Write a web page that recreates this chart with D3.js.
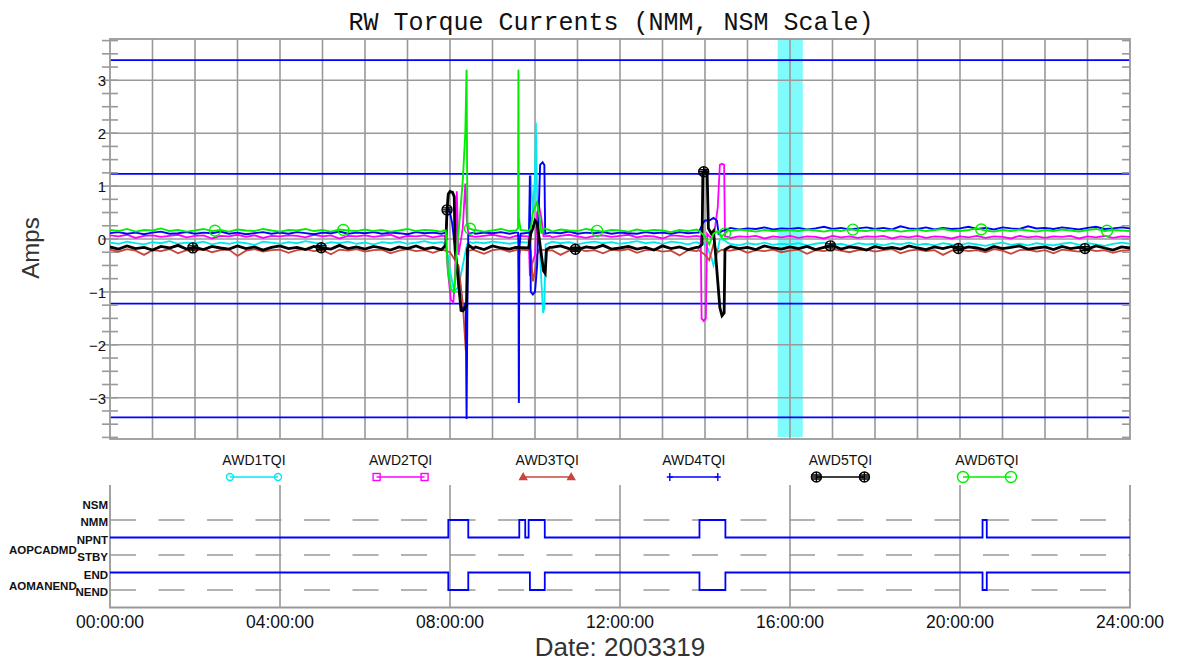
<!DOCTYPE html>
<html>
<head>
<meta charset="utf-8">
<script src="https://cdn.jsdelivr.net/npm/d3@7"></script>
<style>
  html, body { margin: 0; padding: 0; background: #fff; }
  svg { display: block; }
  text { font-family: "Liberation Sans", Arial, sans-serif; fill: #111; }
</style>
</head>
<body>
<svg id="chart" width="1177" height="664"></svg>
<script>
// ---- Data -------------------------------------------------------------
// Torque currents sampled every 0.2 h (00:00 .. 24:00), in amps.
const HOUR_STEP = 0.2;

const awd1 = [
  -0.07,-0.09,-0.05,-0.08,-0.10,-0.06,-0.08,-0.04,-0.09,-0.07,
  -0.08,-0.05,-0.10,-0.07,-0.09,-0.06,-0.08,-0.11,-0.05,-0.07,
  -0.09,-0.06,-0.08,-0.04,-0.07,-0.10,-0.06,-0.08,-0.05,-0.09,
  -0.07,-0.10,-0.06,-0.08,-0.05,-0.09,-0.07,-0.04,-0.08,-0.06,
  -0.08,-0.07,-0.09,-0.06,-0.08,-0.05,-0.07,-0.09,-0.06,-0.08,
  -0.07,-0.09,-0.05,-0.08,-0.06,-0.10,-0.07,-0.05,-0.08,-0.06,
  -0.09,-0.07,-0.04,-0.08,-0.06,-0.09,-0.05,-0.07,-0.10,-0.06,
  -0.08,-0.10,-0.07,-0.09,-0.12,-0.08,-0.10,-0.07,-0.11,-0.09,
  -0.10,-0.08,-0.12,-0.09,-0.07,-0.11,-0.09,-0.13,-0.08,-0.10,
  -0.09,-0.12,-0.08,-0.10,-0.07,-0.11,-0.09,-0.12,-0.08,-0.10,
  -0.11,-0.08,-0.10,-0.13,-0.09,-0.07,-0.11,-0.09,-0.12,-0.08,
  -0.10,-0.12,-0.09,-0.07,-0.11,-0.08,-0.10,-0.13,-0.09,-0.07,
  -0.09
];
const awd2 = [
  0.07,0.05,0.08,0.02,0.06,0.07,0.04,0.06,0.08,0.03,
  0.06,0.07,0.01,0.06,0.05,0.08,0.04,0.07,0.02,0.06,
  0.05,0.07,0.06,0.03,0.08,0.05,0.07,0.01,0.06,0.05,
  0.07,0.04,0.06,0.08,0.02,0.06,0.05,0.07,0.03,0.06,
  0.06,0.05,0.07,0.04,0.06,0.08,0.05,0.02,0.06,0.07,
  0.05,0.07,0.03,0.06,0.08,0.05,0.02,0.06,0.07,0.04,
  0.06,0.08,0.03,0.06,0.05,0.01,0.07,0.06,0.04,0.06,
  0.05,0.03,0.06,0.02,0.05,0.04,0.06,0.01,0.05,0.03,
  0.06,0.02,0.05,0.04,0.01,0.06,0.03,0.05,0.02,0.05,
  0.04,0.06,0.01,0.05,0.03,0.06,0.02,0.05,0.04,0.01,
  0.05,0.03,0.06,0.02,0.05,0.04,0.01,0.06,0.03,0.05,
  0.02,0.05,0.04,0.06,0.01,0.05,0.03,0.06,0.02,0.05,
  0.04
];
const awd3 = [
  -0.20,-0.24,-0.19,-0.22,-0.30,-0.21,-0.23,-0.19,-0.27,-0.21,
  -0.22,-0.19,-0.25,-0.21,-0.20,-0.32,-0.22,-0.19,-0.24,-0.21,
  -0.20,-0.26,-0.21,-0.19,-0.23,-0.21,-0.29,-0.20,-0.22,-0.19,
  -0.24,-0.21,-0.20,-0.27,-0.22,-0.19,-0.23,-0.21,-0.26,-0.20,
  -0.21,-0.23,-0.20,-0.22,-0.28,-0.21,-0.19,-0.24,-0.21,-0.22,
  -0.20,-0.25,-0.21,-0.30,-0.22,-0.19,-0.23,-0.21,-0.27,-0.20,
  -0.22,-0.19,-0.26,-0.21,-0.20,-0.24,-0.22,-0.31,-0.21,-0.23,
  -0.21,-0.24,-0.20,-0.22,-0.19,-0.26,-0.21,-0.23,-0.20,-0.25,
  -0.22,-0.20,-0.28,-0.21,-0.23,-0.19,-0.22,-0.25,-0.21,-0.20,
  -0.24,-0.21,-0.19,-0.27,-0.22,-0.20,-0.23,-0.21,-0.30,-0.22,
  -0.20,-0.23,-0.21,-0.25,-0.19,-0.22,-0.28,-0.21,-0.20,-0.24,
  -0.21,-0.27,-0.20,-0.22,-0.24,-0.19,-0.23,-0.21,-0.26,-0.22,
  -0.21
];
const awd4 = [
  0.11,0.13,0.10,0.12,0.09,0.12,0.14,0.10,0.11,0.13,
  0.10,0.12,0.11,0.14,0.10,0.12,0.09,0.11,0.13,0.10,
  0.12,0.10,0.13,0.11,0.09,0.12,0.11,0.14,0.10,0.12,
  0.11,0.13,0.10,0.12,0.11,0.09,0.13,0.11,0.12,0.10,
  0.12,0.11,0.13,0.10,0.12,0.11,0.13,0.10,0.12,0.11,
  0.13,0.10,0.12,0.11,0.14,0.10,0.12,0.11,0.13,0.10,
  0.12,0.11,0.10,0.13,0.11,0.12,0.10,0.13,0.11,0.12,
  0.15,0.18,0.19,0.21,0.18,0.20,0.19,0.22,0.18,0.20,
  0.19,0.21,0.18,0.20,0.23,0.19,0.21,0.18,0.20,0.22,
  0.19,0.21,0.18,0.24,0.20,0.19,0.22,0.18,0.21,0.19,
  0.20,0.23,0.19,0.21,0.18,0.22,0.20,0.19,0.24,0.20,
  0.21,0.19,0.22,0.20,0.18,0.21,0.23,0.19,0.20,0.22,
  0.20
];
const awd5 = [
  -0.15,-0.19,-0.13,-0.18,-0.16,-0.21,-0.14,-0.17,-0.12,-0.19,
  -0.16,-0.20,-0.14,-0.17,-0.19,-0.13,-0.18,-0.15,-0.21,-0.16,
  -0.13,-0.18,-0.16,-0.20,-0.14,-0.17,-0.19,-0.12,-0.18,-0.15,
  -0.19,-0.14,-0.17,-0.21,-0.15,-0.18,-0.13,-0.19,-0.16,-0.20,
  -0.16,-0.14,-0.18,-0.15,-0.20,-0.13,-0.17,-0.19,-0.15,-0.18,
  -0.14,-0.19,-0.16,-0.13,-0.18,-0.20,-0.15,-0.17,-0.12,-0.19,
  -0.17,-0.14,-0.19,-0.16,-0.21,-0.13,-0.18,-0.15,-0.20,-0.16,
  -0.17,-0.15,-0.19,-0.14,-0.18,-0.16,-0.20,-0.13,-0.17,-0.19,
  -0.15,-0.18,-0.14,-0.20,-0.16,-0.12,-0.19,-0.15,-0.17,-0.21,
  -0.14,-0.18,-0.16,-0.19,-0.13,-0.17,-0.20,-0.15,-0.18,-0.14,
  -0.19,-0.15,-0.17,-0.21,-0.14,-0.18,-0.16,-0.13,-0.19,-0.17,
  -0.15,-0.20,-0.14,-0.18,-0.16,-0.19,-0.13,-0.17,-0.21,-0.15,
  -0.17
];
const awd6 = [
  0.17,0.15,0.19,0.14,0.17,0.16,0.20,0.15,0.17,0.14,
  0.16,0.19,0.15,0.17,0.14,0.18,0.16,0.15,0.19,0.16,
  0.14,0.17,0.16,0.19,0.15,0.17,0.14,0.18,0.16,0.15,
  0.18,0.15,0.17,0.14,0.16,0.19,0.15,0.17,0.16,0.14,
  0.16,0.18,0.15,0.17,0.14,0.16,0.19,0.15,0.17,0.16,
  0.15,0.17,0.14,0.18,0.16,0.15,0.19,0.16,0.14,0.17,
  0.16,0.14,0.18,0.15,0.17,0.16,0.13,0.17,0.15,0.18,
  0.16,0.14,0.17,0.15,0.18,0.16,0.14,0.17,0.15,0.16,
  0.17,0.15,0.18,0.16,0.14,0.17,0.15,0.19,0.16,0.15,
  0.18,0.15,0.17,0.14,0.16,0.18,0.15,0.17,0.19,0.16,
  0.15,0.17,0.20,0.16,0.14,0.17,0.15,0.18,0.16,0.14,
  0.17,0.15,0.18,0.16,0.14,0.17,0.19,0.15,0.17,0.16,
  0.15
];

// Finer samples [hour, amps] around the three slews.
const eventWindows = [[7.85, 8.55], [9.55, 10.35], [13.85, 14.55]];

const awd1Events = [
  [7.85,-0.07],[7.95,-0.3],[8.0,-0.6],[8.1,-1.0],[8.2,-0.9],[8.3,-0.5],[8.4,-0.1],[8.47,-0.06],[8.55,-0.08],
  [9.55,-0.07],[9.7,-0.06],[9.85,-0.07],[9.9,1.2],[9.95,0.5],[10.0,1.2],[10.02,2.2],[10.05,0.8],[10.1,0.0],
  [10.15,-0.8],[10.19,-1.4],[10.22,-1.3],[10.25,-0.1],[10.35,-0.07],
  [13.85,-0.08],[13.95,-0.06],[14.05,-0.15],[14.15,-0.35],[14.2,-0.5],[14.28,-0.3],[14.35,0.0],[14.45,-0.02],[14.55,-0.08]
];
const awd2Events = [
  [7.85,0.06],[7.9,0.04],[7.95,-0.6],[8.02,-1.15],[8.08,-1.2],[8.12,-0.7],[8.16,0.9],[8.2,-0.3],[8.3,0.2],
  [8.36,1.05],[8.4,0.3],[8.44,0.06],[8.55,0.05],
  [9.55,0.06],[9.85,0.05],[9.88,-0.7],[9.92,-0.5],[10.0,-0.3],[10.05,0.5],[10.1,0.6],[10.15,0.4],[10.2,0.05],[10.35,0.06],
  [13.85,0.05],[13.9,0.05],[13.92,-1.5],[13.97,-1.55],[14.02,-1.5],[14.05,0.1],[14.1,0.05],[14.2,0.0],
  [14.3,0.6],[14.35,1.4],[14.4,1.42],[14.45,1.4],[14.47,0.05],[14.55,0.04]
];
const awd3Events = [
  [7.85,-0.21],[8.0,-0.25],[8.2,-0.5],[8.3,-1.2],[8.37,-2.1],[8.4,-0.6],[8.44,-0.22],[8.55,-0.2],
  [9.55,-0.21],[9.6,-0.2],[9.615,-1.0],[9.62,-3.05],[9.63,-0.3],[9.66,-0.2],[9.9,-0.22],[9.95,-0.8],
  [10.0,-0.6],[10.05,-0.3],[10.1,-0.2],[10.35,-0.22],
  [13.85,-0.21],[14.0,-0.3],[14.1,-0.4],[14.2,-0.1],[14.3,-0.25],[14.4,-0.2],[14.55,-0.22]
];
const awd4Events = [
  [7.85,0.11],[7.9,0.12],[7.95,0.6],[8.0,0.5],[8.05,0.3],[8.15,-0.4],[8.26,-1.3],[8.33,-1.3],[8.37,-1.2],
  [8.39,-3.4],[8.41,-1.2],[8.43,0.1],[8.55,0.12],
  [9.55,0.12],[9.6,0.12],[9.615,-0.2],[9.62,-3.1],[9.63,-0.2],[9.66,0.1],[9.86,0.12],[9.88,1.2],[9.9,-1.0],
  [9.95,-1.05],[10.0,-1.0],[10.05,-0.5],[10.12,1.4],[10.18,1.45],[10.22,1.4],[10.24,0.1],[10.35,0.12],
  [13.85,0.12],[13.95,0.3],[14.0,0.35],[14.1,0.35],[14.2,0.4],[14.28,0.35],[14.32,0.1],[14.4,0.15],[14.55,0.19]
];
const awd5Events = [
  [7.85,-0.16],[7.9,-0.12],[7.93,0.55],[7.96,0.85],[8.0,0.9],[8.06,0.88],[8.1,0.8],[8.12,-0.2],[8.16,-0.5],
  [8.22,-1.0],[8.26,-1.35],[8.3,-1.36],[8.36,-1.3],[8.39,-1.25],[8.41,-0.2],[8.44,-0.12],[8.55,-0.18],
  [9.55,-0.16],[9.85,-0.17],[9.9,0.1],[9.95,0.2],[10.0,0.35],[10.05,0.3],[10.1,0.0],[10.15,-0.3],[10.2,-0.6],
  [10.24,-0.65],[10.27,-0.2],[10.35,-0.16],
  [13.85,-0.16],[13.93,-0.1],[13.95,1.25],[14.0,1.3],[14.05,1.25],[14.08,0.2],[14.15,0.1],[14.2,0.15],
  [14.25,-0.3],[14.3,-0.8],[14.35,-1.3],[14.4,-1.45],[14.45,-1.4],[14.47,-0.2],[14.55,-0.16]
];
const awd6Events = [
  [7.85,0.16],[7.9,0.16],[7.95,-0.6],[8.02,-0.95],[8.1,-1.0],[8.15,-0.3],[8.22,0.3],[8.3,1.1],[8.36,2.0],
  [8.39,3.2],[8.41,0.3],[8.45,0.2],[8.55,0.17],
  [9.55,0.16],[9.6,0.2],[9.605,1.7],[9.61,3.2],[9.62,0.4],[9.66,0.17],[9.85,0.15],[9.9,0.2],[9.95,0.5],
  [10.0,0.6],[10.05,0.7],[10.1,0.45],[10.15,0.1],[10.2,0.2],[10.35,0.17],
  [13.85,0.16],[14.0,0.05],[14.1,-0.1],[14.2,0.1],[14.3,0.15],[14.4,0.05],[14.55,0.17]
];

// Plot-symbol positions (hours) along AWD5 and AWD6.
const awd5SymbolHours = [1.95, 4.97, 7.93, 10.95, 13.97, 16.95, 19.96, 22.94];
const awd6SymbolHours = [2.47, 5.49, 8.47, 11.46, 14.47, 17.48, 20.5, 23.46];

// Limit lines (amps) and highlighted interval (hours).
const limitLevels = [3.38, 1.23, -1.22, -3.37];
const highlightSpan = [15.71, 16.30];

const seriesNames = ["AWD1TQI", "AWD2TQI", "AWD3TQI", "AWD4TQI", "AWD5TQI", "AWD6TQI"];
const yTicks = [-3, -2, -1, 0, 1, 2, 3];
const timeTickHours = [0, 4, 8, 12, 16, 20, 24];
const timeTickLabels = ["00:00:00", "04:00:00", "08:00:00", "12:00:00", "16:00:00", "20:00:00", "24:00:00"];

// Discrete status telemetry: [hour the state begins, state]
const modeStates = ["NSM", "NMM", "NPNT", "STBY", "END", "NEND"];
const aopcadmd = [[0,"NPNT"],[7.96,"NMM"],[8.43,"NPNT"],[9.63,"NMM"],[9.77,"NPNT"],[9.85,"NMM"],[10.23,"NPNT"],
                  [13.87,"NMM"],[14.48,"NPNT"],[20.53,"NMM"],[20.63,"NPNT"],[24,"NPNT"]];
const aomanend = [[0,"END"],[7.96,"NEND"],[8.43,"END"],[9.88,"NEND"],[10.23,"END"],[13.87,"NEND"],[14.48,"END"],
                  [20.53,"NEND"],[20.63,"END"],[24,"END"]];
const dashedStates = ["NMM", "STBY", "NEND"];

// ---- Layout -----------------------------------------------------------
const svg = d3.select("#chart");
const left = 110, right = 1130;
const top1 = 39, bottom1 = 439;
const top2 = 485, bottom2 = 607.5;

const x = d3.scaleLinear().domain([0, 24]).range([left, right]);
const y = d3.scaleLinear().domain([-3.78, 3.78]).range([bottom1, top1]);
const yMode = d3.scaleLinear().domain([-1, 6]).range([top2, bottom2]);

const gridColor = "#999";

function buildSeries(base, events) {
  const pts = base.map((v, i) => [i * HOUR_STEP, v])
    .filter(([h]) => !eventWindows.some(([a, b]) => h >= a && h <= b));
  return pts.concat(events).sort((p, q) => p[0] - q[0]);
}

const series = [
  { name: seriesNames[0], color: "#00e8f0", width: 1.8, pts: buildSeries(awd1, awd1Events), sym: "circle" },
  { name: seriesNames[1], color: "#ff00ff", width: 1.8, pts: buildSeries(awd2, awd2Events), sym: "square" },
  { name: seriesNames[2], color: "#c8443c", width: 1.8, pts: buildSeries(awd3, awd3Events), sym: "triangle" },
  { name: seriesNames[3], color: "#0000ff", width: 1.9, pts: buildSeries(awd4, awd4Events), sym: "plus" },
  { name: seriesNames[4], color: "#000000", width: 2.8, pts: buildSeries(awd5, awd5Events), sym: "oplus", symHours: awd5SymbolHours },
  { name: seriesNames[5], color: "#00ee00", width: 1.9, pts: buildSeries(awd6, awd6Events), sym: "bigcircle", symHours: awd6SymbolHours }
];

function valueAt(pts, h) {
  const i = d3.bisector(d => d[0]).left(pts, h);
  if (i <= 0) return pts[0][1];
  if (i >= pts.length) return pts[pts.length - 1][1];
  const [h0, v0] = pts[i - 1], [h1, v1] = pts[i];
  return v0 + (v1 - v0) * (h - h0) / (h1 - h0);
}

function drawSymbol(g, type, cx, cy, color) {
  const s = g.append("g").attr("transform", `translate(${cx},${cy})`)
    .attr("fill", "none").attr("stroke", color).attr("stroke-width", 1.4);
  if (type === "circle") s.append("circle").attr("r", 3.5);
  else if (type === "square") s.append("rect").attr("x", -3.5).attr("y", -3.5).attr("width", 7).attr("height", 7);
  else if (type === "triangle") s.append("path").attr("d", "M0,-3.5L3.5,2.5L-3.5,2.5Z").attr("fill", color);
  else if (type === "plus") s.append("path").attr("d", "M0,-4V4M-3,0H3");
  else if (type === "oplus") {
    s.append("circle").attr("r", 5);
    s.append("path").attr("d", "M-5,0H5M0,-5V5M-5,-2H5M-5,2H5");
  } else if (type === "bigcircle") s.append("circle").attr("r", 5.5);
}

// ---- Title ------------------------------------------------------------
svg.append("text").attr("x", 611).attr("y", 30).attr("text-anchor", "middle")
  .style("font-family", "'Courier New', 'Liberation Mono', monospace")
  .style("font-size", "25px")
  .text("RW Torque Currents (NMM, NSM Scale)");

// ---- Upper panel ------------------------------------------------------
const clipId = "plotClip";
svg.append("clipPath").attr("id", clipId).append("rect")
  .attr("x", left).attr("y", top1).attr("width", right - left).attr("height", bottom1 - top1);

// highlighted interval
svg.append("rect")
  .attr("x", x(highlightSpan[0])).attr("y", top1)
  .attr("width", x(highlightSpan[1]) - x(highlightSpan[0]))
  .attr("height", bottom1 - 2 - top1)
  .attr("fill", "#80fbfb");

// hourly vertical grid and integer horizontal grid
const grid = svg.append("g").attr("stroke", gridColor).attr("stroke-width", 1.6);
grid.selectAll("line.v").data(d3.range(1, 24)).join("line")
  .attr("x1", d => x(d)).attr("x2", d => x(d)).attr("y1", top1).attr("y2", bottom1);
grid.selectAll("line.h").data(yTicks).join("line")
  .attr("x1", left).attr("x2", right).attr("y1", d => y(d)).attr("y2", d => y(d));

// limit lines
svg.append("g").selectAll("line").data(limitLevels).join("line")
  .attr("x1", left).attr("x2", right).attr("y1", d => y(d)).attr("y2", d => y(d))
  .attr("stroke", "#0000ff").attr("stroke-width", 1.8);

// minor/major ticks every 0.25 A
const tickVals = d3.range(-15, 16).map(k => k * 0.25);
const ticks = svg.append("g").attr("stroke", gridColor).attr("stroke-width", 1.6);
ticks.selectAll("line.l").data(tickVals).join("line")
  .attr("x1", left - 8).attr("x2", left + 8).attr("y1", d => y(d)).attr("y2", d => y(d));
ticks.selectAll("line.r").data(tickVals).join("line")
  .attr("x1", right - 8).attr("x2", right).attr("y1", d => y(d)).attr("y2", d => y(d));

// frame
svg.append("rect").attr("x", left).attr("y", top1).attr("width", right - left).attr("height", bottom1 - top1)
  .attr("fill", "none").attr("stroke", gridColor).attr("stroke-width", 1.8);

// y tick labels
svg.append("g").selectAll("text").data(yTicks).join("text")
  .attr("x", 106).attr("y", d => y(d) + 6).attr("text-anchor", "end")
  .style("font-size", "15px")
  .text(d => d < 0 ? "\u2212" + Math.abs(d) : d);

svg.append("text").attr("transform", `translate(39,248) rotate(-90)`).attr("text-anchor", "middle")
  .style("font-size", "24px").style("fill", "#333").text("Amps");

// data traces
const line = d3.line().x(d => x(d[0])).y(d => y(d[1]));
const traces = svg.append("g").attr("clip-path", `url(#${clipId})`);
series.forEach(s => {
  traces.append("path").datum(s.pts).attr("d", line)
    .attr("fill", "none").attr("stroke", s.color).attr("stroke-width", s.width)
    .attr("stroke-linejoin", "miter");
  if (s.symHours) {
    s.symHours.forEach(h => drawSymbol(traces, s.sym, x(h), y(valueAt(s.pts, h)), s.color));
  }
});

// ---- Legend -----------------------------------------------------------
const legendCenters = d3.scalePoint().domain(seriesNames).range([254, 987]);
series.forEach(s => {
  const cx = legendCenters(s.name);
  svg.append("text").attr("x", cx).attr("y", 465).attr("text-anchor", "middle")
    .style("font-size", "14px").text(s.name);
  svg.append("line").attr("x1", cx - 24).attr("x2", cx + 24).attr("y1", 477).attr("y2", 477)
    .attr("stroke", s.color).attr("stroke-width", 1.4);
  drawSymbol(svg, s.sym, cx - 24, 477, s.color);
  drawSymbol(svg, s.sym, cx + 24, 477, s.color);
});

// ---- Lower panel: status telemetry -----------------------------------
const lower = svg.append("g");
lower.selectAll("line.v").data(timeTickHours.slice(1, -1)).join("line")
  .attr("x1", d => x(d)).attr("x2", d => x(d)).attr("y1", top2).attr("y2", bottom2)
  .attr("stroke", gridColor).attr("stroke-width", 1.6);
lower.selectAll("line.d").data(dashedStates).join("line")
  .attr("x1", left).attr("x2", right)
  .attr("y1", d => yMode(modeStates.indexOf(d))).attr("y2", d => yMode(modeStates.indexOf(d)))
  .attr("stroke", gridColor).attr("stroke-width", 1.6).attr("stroke-dasharray", "26 22.5");
lower.append("path")
  .attr("d", `M${left},${top2}V${bottom2}H${right}V${top2}`)
  .attr("fill", "none").attr("stroke", gridColor).attr("stroke-width", 1.8);

const stepLine = d3.line().curve(d3.curveStepAfter)
  .x(d => x(d[0])).y(d => yMode(modeStates.indexOf(d[1])));
[aopcadmd, aomanend].forEach(sig => {
  lower.append("path").datum(sig).attr("d", stepLine)
    .attr("fill", "none").attr("stroke", "#0000ff").attr("stroke-width", 1.8);
});

lower.selectAll("text.state").data(modeStates).join("text")
  .attr("x", 108).attr("y", (d, i) => yMode(i) + 6).attr("text-anchor", "end")
  .style("font-size", "11.5px").style("font-weight", "bold").text(d => d);

lower.append("text").attr("x", 9).attr("y", 554).style("font-size", "11.5px").style("font-weight", "bold").text("AOPCADMD");
lower.append("text").attr("x", 9).attr("y", 590).style("font-size", "11.5px").style("font-weight", "bold").text("AOMANEND");

// time axis labels
svg.append("g").selectAll("text").data(timeTickHours).join("text")
  .attr("x", d => x(d)).attr("y", 628).attr("text-anchor", "middle")
  .style("font-size", "17.5px")
  .text((d, i) => timeTickLabels[i]);

svg.append("text").attr("x", 620).attr("y", 656).attr("text-anchor", "middle")
  .style("font-size", "26px").style("fill", "#333").text("Date: 2003319");
</script>
</body>
</html>
